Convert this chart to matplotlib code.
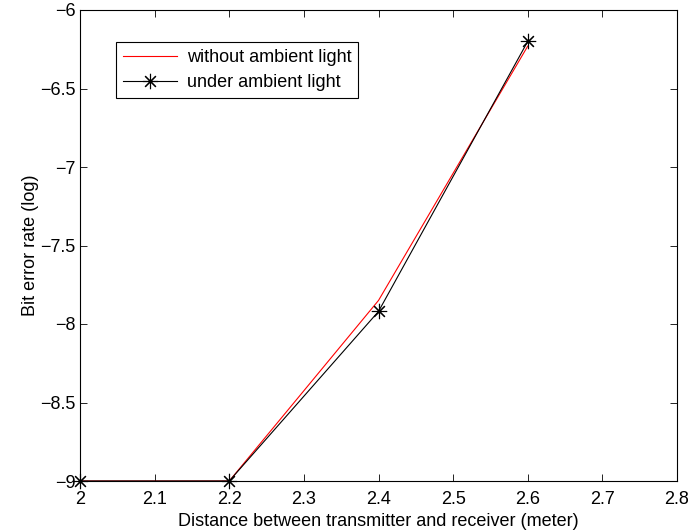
import numpy as np
import matplotlib
matplotlib.use('Agg')
import matplotlib.pyplot as plt

# distance (m) vs log10 of bit error rate
distance = [2.0, 2.2, 2.4, 2.6]
ber_dark = [-9.0, -9.0, -7.85, -6.23]
ber_ambient = [-9.0, -9.0, -7.92, -6.2]

x_ticks = [2, 2.1, 2.2, 2.3, 2.4, 2.5, 2.6, 2.7, 2.8]
y_ticks = [-9, -8.5, -8, -7.5, -7, -6.5, -6]

plt.rcParams['font.family'] = ['Liberation Sans', 'DejaVu Sans']
plt.rcParams['font.size'] = 13
plt.rcParams['axes.unicode_minus'] = True

fig = plt.figure(figsize=(6.91, 5.32), dpi=100)
ax = fig.add_axes([80/691, 1-481/532, (677-80)/691, (481-10)/532])

# 8-spoke asterisk like the classic '*' marker
asterisk = (8, 2, 0)
ax.plot(distance, ber_dark, color='red', lw=0.8, label='without ambient light')
ax.plot(distance, ber_ambient, color='black', lw=0.8, marker=asterisk, ms=11,
        markeredgewidth=0.8, label='under ambient light', clip_on=False)

ax.set_xlim(2, 2.8)
ax.set_ylim(-9, -6)
ax.set_xticks(x_ticks)
ax.set_xticklabels(['2', '2.1', '2.2', '2.3', '2.4', '2.5', '2.6', '2.7', '2.8'])
ax.set_yticks(y_ticks)
ax.set_yticklabels(['\u22129', '\u22128.5', '\u22128', '\u22127.5', '\u22127', '\u22126.5', '\u22126'])
ax.tick_params(direction='in', length=5, width=0.6, top=True, right=True,
               labelsize=13)
ax.tick_params(axis='x', pad=7)
ax.tick_params(axis='y', pad=3)
for s in ax.spines.values():
    s.set_linewidth(0.8)

ax.set_xlabel('Distance between transmitter and receiver (meter)', fontsize=13, labelpad=4)
ax.set_ylabel('Bit error rate (log)', fontsize=13, labelpad=1)

leg = ax.legend(loc='upper left', bbox_to_anchor=(36/597, 1-32/471),
                fancybox=False, framealpha=1, edgecolor='black', fontsize=13,
                handlelength=3.0, borderaxespad=0, borderpad=0.38,
                labelspacing=0.45, handletextpad=0.55)
leg.get_frame().set_linewidth(0.8)

fig.savefig('out.png', dpi=100)
